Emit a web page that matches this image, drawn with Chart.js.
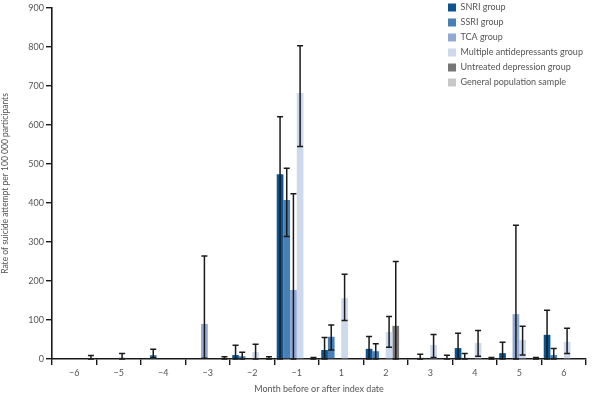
<!DOCTYPE html>
<html>
<head>
<meta charset="utf-8">
<script src="https://cdn.jsdelivr.net/npm/chart.js@4.4.1/dist/chart.umd.min.js"></script>
<style>
  html, body { margin: 0; padding: 0; background: #fff; }
  #wrap { width: 592px; height: 394px; }
</style>
</head>
<body>
<div id="wrap"><canvas id="chart" width="592" height="394"></canvas></div>
<script>
// months before / after index date
var months = ["\u22126", "\u22125", "\u22124", "\u22123", "\u22122", "\u22121", "1", "2", "3", "4", "5", "6"];

var snri      = [0, 0, 0, 0, 10, 474, 23, 26, 0, 28, 15, 62];
var snriHi    = [null, null, null, null, 35, 621, 55, 58, null, 66, 43, 125];
var snriLo    = [null, null, null, null, 0, 0, 0, 0, null, 0, 0, 0];

var ssri      = [0, 0, 10, 0, 7, 408, 57, 20, 3, 3, 0, 10];
var ssriHi    = [null, null, 25, null, 17, 489, 87, 39, 12, 14, null, 27];
var ssriLo    = [null, null, 4, null, 0, 314, 23, 0, 0, 0, null, 0];

var tca       = [0, 0, 0, 90, 0, 177, 0, 0, 0, 0, 115, 0];
var tcaHi     = [null, null, null, 264, null, 424, null, null, null, null, 343, null];
var tcaLo     = [null, null, null, 2, null, 0, null, null, null, null, 0, null];

var multi     = [0, 5, 0, 0, 18, 682, 156, 69, 36, 41, 49, 44];
var multiHi   = [null, 14, null, null, 38, 803, 217, 109, 63, 73, 84, 79];
var multiLo   = [null, 0, null, null, 0, 545, 99, 30, 4, 7, 10, 14];

var untreated   = [0, 0, 0, 0, 0, 0, 0, 85, 0, 0, 0, 0];
var untreatedHi = [null, null, null, null, null, null, null, 250, null, null, null, null];
var untreatedLo = [null, null, null, null, null, null, null, 0, null, null, null, null];

var general   = [3, 0, 0, 2, 2, 1, 0, 0, 2, 1, 1, 0];
var generalHi = [9, null, null, 6, 6, 4, null, null, 9.5, 4, 4, null];
var generalLo = [0, null, null, 0, 0, 0, null, null, 0, 0, 0, null];

var yTicks = [0, 100, 200, 300, 400, 500, 600, 700, 800, 900];

var FONT = "Lato, 'Liberation Sans', sans-serif";
var TXT = "#555";

// draws the confidence interval whiskers from the *Hi / *Lo arrays
var errorBars = {
    id: "errorBars",
    afterDatasetsDraw: function (chart) {
        var ctx = chart.ctx;
        var y = chart.scales.y;
        ctx.save();
        ctx.strokeStyle = "#1a1a1a";
        ctx.lineWidth = 1.5;
        chart.data.datasets.forEach(function (ds, i) {
            var meta = chart.getDatasetMeta(i);
            ds.errHi.forEach(function (hi, j) {
                if (hi == null) return;
                var lo = ds.errLo[j] == null ? ds.data[j] : ds.errLo[j];
                var x = meta.data[j].x;
                var yh = y.getPixelForValue(hi);
                var yl = y.getPixelForValue(lo);
                ctx.beginPath();
                ctx.moveTo(x, yh); ctx.lineTo(x, yl);
                ctx.moveTo(x - 3, yh); ctx.lineTo(x + 3, yh);
                ctx.moveTo(x - 3, yl); ctx.lineTo(x + 3, yl);
                ctx.stroke();
            });
        });
        ctx.restore();
    }
};

// move the legend into the top-right corner of the plot
var legendCorner = {
    id: "legendCorner",
    afterLayout: function (chart) {
        var lg = chart.legend;
        lg.left = 442;
        lg.right = chart.width;
        lg.top = -3;
    }
};

var chart = new Chart(
    document.getElementById("chart"),
    {
        "type": "bar",
        "data": {
            "labels": months,
            "datasets": [
                { "label": "SNRI group", "data": snri, "errHi": snriHi, "errLo": snriLo, "backgroundColor": "#0b5491" },
                { "label": "SSRI group", "data": ssri, "errHi": ssriHi, "errLo": ssriLo, "backgroundColor": "#4a7fb5" },
                { "label": "TCA group", "data": tca, "errHi": tcaHi, "errLo": tcaLo, "backgroundColor": "#91a9d3" },
                { "label": "Multiple antidepressants group", "data": multi, "errHi": multiHi, "errLo": multiLo, "backgroundColor": "#cdd9ec" },
                { "label": "Untreated depression group", "data": untreated, "errHi": untreatedHi, "errLo": untreatedLo, "backgroundColor": "#777777" },
                { "label": "General population sample", "data": general, "errHi": generalHi, "errLo": generalLo, "backgroundColor": "#c8c8c8" }
            ]
        },
        "options": {
            "responsive": false,
            "animation": false,
            "layout": { "padding": { "top": 8, "right": 6, "left": 0, "bottom": 0 } },
            "datasets": { "bar": { "barPercentage": 1, "categoryPercentage": 0.9, "borderWidth": 0 } },
            "plugins": {
                "legend": {
                    "position": "chartArea",
                    "align": "start",
                    "labels": {
                        "boxWidth": 8,
                        "boxHeight": 8,
                        "padding": 6,
                        "color": TXT,
                        "font": { "family": FONT, "size": 9 }
                    }
                },
                "tooltip": { "enabled": false }
            },
            "scales": {
                "x": {
                    "grid": { "display": true, "drawOnChartArea": false, "drawTicks": true, "tickLength": 6, "color": "#1a1a1a", "lineWidth": 1.4, "offset": true },
                    "border": { "color": "#1a1a1a", "width": 1.6 },
                    "ticks": { "color": TXT, "font": { "family": FONT, "size": 9 }, "padding": 3, "maxRotation": 0 },
                    "title": { "display": true, "text": "Month before or after index date", "color": TXT, "font": { "family": FONT, "size": 9 }, "padding": { "top": 2, "bottom": 0 } },
                    "afterFit": function (s) { s.height = 35; }
                },
                "y": {
                    "min": 0,
                    "max": 900,
                    "grid": { "display": true, "drawOnChartArea": false, "drawTicks": true, "tickLength": 6, "color": "#1a1a1a", "lineWidth": 1.4 },
                    "border": { "color": "#1a1a1a", "width": 1.6 },
                    "afterBuildTicks": function (s) { s.ticks = yTicks.map(function (v) { return { value: v }; }); },
                    "ticks": { "color": TXT, "font": { "family": FONT, "size": 9 }, "padding": 2 },
                    "title": { "display": true, "text": "Rate of suicide attempt per 100 000 participants", "color": TXT, "font": { "family": FONT, "size": 8.5 }, "padding": { "top": 0, "bottom": 4 } },
                    "afterFit": function (s) { s.width = 52; }
                }
            }
        },
        "plugins": [errorBars, legendCorner]
    });
</script>
</body>
</html>
